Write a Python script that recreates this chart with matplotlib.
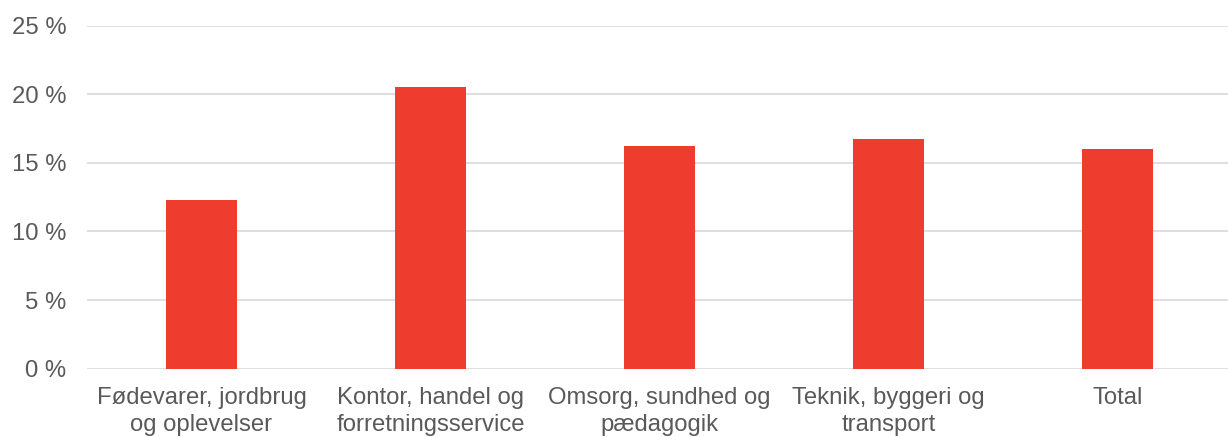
import matplotlib.pyplot as plt
from matplotlib.ticker import FuncFormatter

# data
categories = ["Fødevarer, jordbrug\nog oplevelser",
              "Kontor, handel og\nforretningsservice",
              "Omsorg, sundhed og\npædagogik",
              "Teknik, byggeri og\ntransport",
              "Total"]
values = [12.3, 20.55, 16.25, 16.75, 16.0]
yticks = [0, 5, 10, 15, 20, 25]

plt.rcParams['font.family'] = ['Liberation Sans', 'DejaVu Sans']

fig = plt.figure(figsize=(12.28, 4.37), dpi=100)
ax = fig.add_axes([87 / 1228, 0.1563, 1145 / 1228, 0.7849])

x = range(len(categories))
ax.bar(x, values, width=0.313, color='#EE3D2F', zorder=3)

ax.set_xlim(-0.5, len(categories) - 0.5)
ax.set_ylim(0, 25)
ax.set_yticks(yticks)
ax.yaxis.set_major_formatter(FuncFormatter(lambda v, p: f"{v:.0f} %"))
ax.set_xticks(list(x))
ax.set_xticklabels(categories, linespacing=1.3)

ax.grid(axis='y', color='#D9D9D9', linewidth=1.2, zorder=0)
for s in ax.spines.values():
    s.set_visible(False)
ax.tick_params(axis='both', length=0, labelsize=17.2, colors='#595959')
ax.tick_params(axis='y', pad=15)
ax.tick_params(axis='x', pad=13)

plt.savefig('out.png', dpi=100)
